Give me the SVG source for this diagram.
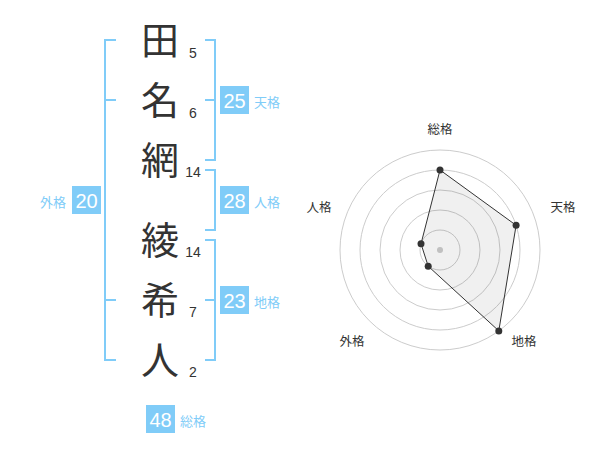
<svg xmlns="http://www.w3.org/2000/svg" width="600" height="470" viewBox="0 0 600 470">
<style>
.kj{font-family:"Noto Sans CJK JP","Noto Sans CJK SC",sans-serif;font-size:38px;fill:#333;text-anchor:middle}
.st{font-family:"Liberation Sans",Arial,sans-serif;font-size:14px;fill:#333;text-anchor:middle}
.br{fill:none;stroke:#80ccf8;stroke-width:2}
.bx{fill:#80ccf8}
.bn{font-family:"Liberation Sans",Arial,sans-serif;font-size:20px;fill:#fff;text-anchor:middle}
.bl{font-family:"Noto Sans CJK JP","Noto Sans CJK SC",sans-serif;font-size:13px;fill:#80ccf8}
.rl{font-family:"Noto Sans CJK JP","Noto Sans CJK SC",sans-serif;font-size:12.5px;fill:#333;text-anchor:middle}
.ring{fill:none;stroke:#ccc;stroke-width:1}
.pt{fill:#333}
</style>
<rect width="600" height="470" fill="#fff"/>
<g id="chars">
<g id="c1"><text class="kj" x="160" y="54">田</text><text class="st" x="193" y="57.5">5</text></g>
<g id="c2"><text class="kj" x="160" y="114">名</text><text class="st" x="193" y="117.5">6</text></g>
<g id="c3"><text class="kj" x="160" y="174">網</text><text class="st" x="193" y="177">14</text></g>
<g id="c4"><text class="kj" x="160" y="254">綾</text><text class="st" x="193" y="257">14</text></g>
<g id="c5"><text class="kj" x="160" y="314">希</text><text class="st" x="193" y="317">7</text></g>
<g id="c6"><text class="kj" x="160" y="374">人</text><text class="st" x="193" y="377">2</text></g>
</g>
<g id="connectors">
<path class="br" d="M116,40 H105 V360 H116 M105,100 H116 M105,300 H116"/>
<path class="br" d="M205,40 H215 V160 H205 M205,100 H215"/>
<path class="br" d="M205,170 H215 V230 H205"/>
<path class="br" d="M205,240 H215 V360 H205 M205,300 H215"/>
</g>
<g id="tenkaku"><rect class="bx" x="220" y="86" width="29" height="28"/><text class="bn" x="234.5" y="107.5">25</text><text class="bl" x="254" y="107">天格</text></g>
<g id="jinkaku"><rect class="bx" x="220" y="186" width="29" height="28"/><text class="bn" x="234.5" y="207.5">28</text><text class="bl" x="254" y="207">人格</text></g>
<g id="chikaku"><rect class="bx" x="220" y="286" width="29" height="28"/><text class="bn" x="234.5" y="307.5">23</text><text class="bl" x="254" y="307">地格</text></g>
<g id="gaikaku"><rect class="bx" x="72" y="186" width="29" height="28"/><text class="bn" x="86.5" y="207.5">20</text><text class="bl" x="40" y="207">外格</text></g>
<g id="soukaku"><rect class="bx" x="146" y="405" width="29" height="28"/><text class="bn" x="160.5" y="426.5">48</text><text class="bl" x="180" y="426">総格</text></g>
<g id="radar">
<circle class="ring" cx="440" cy="250" r="20"/>
<circle class="ring" cx="440" cy="250" r="40"/>
<circle class="ring" cx="440" cy="250" r="60"/>
<circle class="ring" cx="440" cy="250" r="80"/>
<circle class="ring" cx="440" cy="250" r="100"/>
<circle cx="440" cy="250" r="3" fill="#ccc"/>
<polygon points="440,170 516.1,225.3 498.8,330.9 428.2,266.2 421,243.8" fill="#000" fill-opacity="0.06" stroke="#333" stroke-width="1"/>
<circle class="pt" cx="440" cy="170" r="3.5"/>
<circle class="pt" cx="516.1" cy="225.3" r="3.5"/>
<circle class="pt" cx="498.8" cy="330.9" r="3.5"/>
<circle class="pt" cx="428.2" cy="266.2" r="3.5"/>
<circle class="pt" cx="421" cy="243.8" r="3.5"/>
<text class="rl" x="440" y="134">総格</text>
<text class="rl" x="563" y="212">天格</text>
<text class="rl" x="524" y="346">地格</text>
<text class="rl" x="352" y="346">外格</text>
<text class="rl" x="319" y="212">人格</text>
</g>
</svg>
